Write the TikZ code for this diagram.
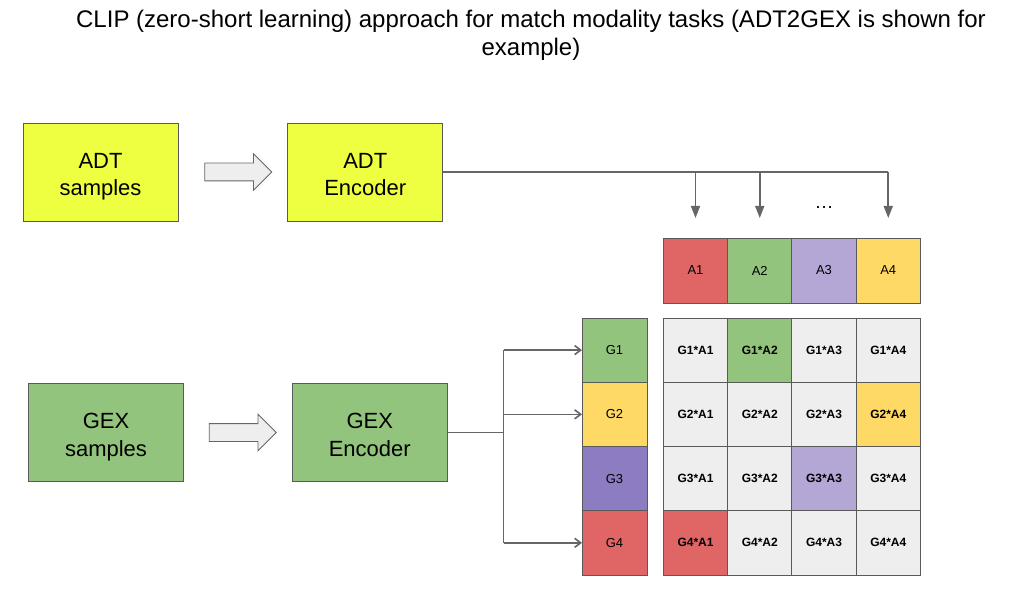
\documentclass[tikz,border=0pt]{standalone}
\usepackage{fontspec}
\setmainfont{Liberation Sans}
\usetikzlibrary{shapes}
\usetikzlibrary{shapes.arrows}
\usetikzlibrary{arrows.meta}
\usetikzlibrary{positioning}

\definecolor{adtyellow}{HTML}{EEFF41}
\definecolor{gexgreen}{HTML}{93C47D}
\definecolor{cellred}{HTML}{E06666}
\definecolor{lightpurple}{HTML}{B4A7D6}
\definecolor{darkpurple}{HTML}{8E7CC3}
\definecolor{cellyellow}{HTML}{FFD966}
\definecolor{cellgray}{HTML}{EEEEEE}
\definecolor{edgegray}{HTML}{595959}
\definecolor{linegray}{HTML}{666666}

\begin{document}
\begin{tikzpicture}[x=1pt,y=-1pt]
    \def\cellw{64.25pt}
    \def\dropgap{20pt}
    \def\splitdist{56}
    \def\lift{\rule{0pt}{24.7pt}}
    \def\sink{\rule[-4.8pt]{0pt}{4.8pt}}
    \tikzstyle{block}=[rectangle, draw=edgegray, line width=0.8pt, minimum width=155pt, minimum height=98pt, align=center, font=\fontsize{22}{27.5}\selectfont]
    \tikzstyle{flow}=[single arrow, draw=linegray, fill=cellgray, line width=0.8pt, minimum height=67pt, inner xsep=0pt, inner ysep=8.5pt, single arrow head extend=9.5pt]
    \tikzstyle{cell}=[rectangle, draw=edgegray, line width=0.8pt, minimum width=\cellw, minimum height=\cellw, inner sep=0pt, outer sep=0pt, font=\fontsize{13}{15}\selectfont]
    \tikzstyle{prod}=[cell, fill=cellgray, font=\fontsize{12}{14}\selectfont\bfseries]
    \tikzstyle{line}=[draw=linegray, line width=1.6pt]
    \tikzstyle{droparrow}=[line, -{Triangle[length=12pt,width=9pt]}]
    \tikzstyle{feedarrow}=[line, -{Straight Barb[length=6pt,width=9pt]}]

    \useasboundingbox (0,0) rectangle (1009,593);

    % title
    \node (title) [font=\fontsize{24}{28}\selectfont, align=center, inner sep=0pt] at (531,35) {CLIP (zero-short learning) approach for match modality tasks (ADT2GEX is shown for\\example)};

    % nodes
    \node (adt) [block, fill=adtyellow] at (100.5,172) {\lift ADT\\samples\sink};
    \node (flow1) [flow, right=26pt of adt] {};
    \node (adtenc) [block, fill=adtyellow, right=15pt of flow1] {\lift ADT\\Encoder\sink};

    \node (gex) [block, fill=gexgreen] at (106,432.5) {\lift GEX\\samples\sink};
    \node (flow2) [flow, right=25pt of gex] {};
    \node (gexenc) [block, fill=gexgreen, right=15pt of flow2] {\lift GEX\\Encoder\sink};

    \node (a1) [cell, fill=cellred, minimum height=65pt] at (695.5,270.5) {A1};
    \node (a2) [cell, fill=gexgreen, minimum height=65pt, right=0pt of a1] {A2};
    \node (a3) [cell, fill=lightpurple, minimum height=65pt, right=0pt of a2] {A3};
    \node (a4) [cell, fill=cellyellow, minimum height=65pt, right=0pt of a3] {A4};

    \node (g1) [cell, fill=gexgreen, minimum width=65pt] at (614.5,350.1) {G1};
    \node (g2) [cell, fill=cellyellow, minimum width=65pt, below=0pt of g1] {G2};
    \node (g3) [cell, fill=darkpurple, minimum width=65pt, below=0pt of g2] {G3};
    \node (g4) [cell, fill=cellred, minimum width=65pt, below=0pt of g3] {G4};

    \node (m11) [prod] at (a1 |- g1) {G1*A1};
    \node (m12) [prod, fill=gexgreen] at (a2 |- g1) {G1*A2};
    \node (m13) [prod] at (a3 |- g1) {G1*A3};
    \node (m14) [prod] at (a4 |- g1) {G1*A4};
    \node (m21) [prod] at (a1 |- g2) {G2*A1};
    \node (m22) [prod] at (a2 |- g2) {G2*A2};
    \node (m23) [prod] at (a3 |- g2) {G2*A3};
    \node (m24) [prod, fill=cellyellow] at (a4 |- g2) {G2*A4};
    \node (m31) [prod] at (a1 |- g3) {G3*A1};
    \node (m32) [prod] at (a2 |- g3) {G3*A2};
    \node (m33) [prod, fill=lightpurple] at (a3 |- g3) {G3*A3};
    \node (m34) [prod] at (a4 |- g3) {G3*A4};
    \node (m41) [prod, fill=cellred] at (a1 |- g4) {G4*A1};
    \node (m42) [prod] at (a2 |- g4) {G4*A2};
    \node (m43) [prod] at (a3 |- g4) {G4*A3};
    \node (m44) [prod] at (a4 |- g4) {G4*A4};

    \path (a3.north)+(0,-31) node (dots) [font=\fontsize{19}{20}\selectfont, inner sep=0pt] {…};

    % arrows
    \draw[line] (adtenc.east) -- (a4.north |- adtenc.east);
    \draw[droparrow] (a1.north |- adtenc.east) -- ([yshift=\dropgap]a1.north);
    \draw[droparrow] (a2.north |- adtenc.east) -- ([yshift=\dropgap]a2.north);
    \draw[droparrow] (a4.north |- adtenc.east) -- ([yshift=\dropgap]a4.north);

    \path (gexenc.east)+(\splitdist,0) coordinate (split);
    \draw[line] (gexenc.east) -- (split);
    \draw[line] (split |- g1.west) -- (split |- g4.west);
    \draw[feedarrow] (split |- g1.west) -- (g1.west);
    \draw[feedarrow] (split |- g2.west) -- (g2.west);
    \draw[feedarrow] (split |- g4.west) -- (g4.west);
\end{tikzpicture}
\end{document}
